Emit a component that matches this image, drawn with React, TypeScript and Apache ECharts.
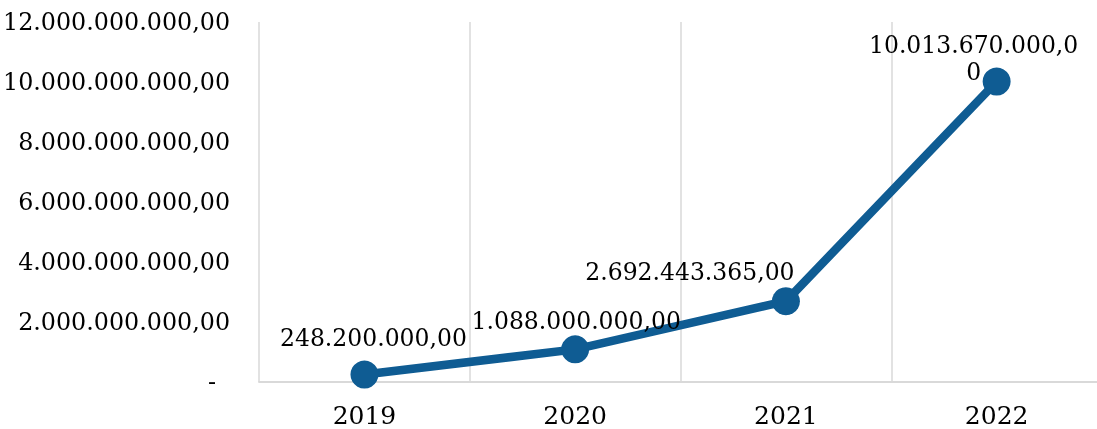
import React, { useEffect, useRef } from "react";
import * as echarts from "echarts";

const categories = ["2019", "2020", "2021", "2022"];
const values = [248200000, 1088000000, 2692443365, 10013670000];
const yMin = 0;
const yMax = 12000000000;
const yInterval = 2000000000;

const labelOffsets: [number, number][] = [
  [9, -4],
  [1, 4],
  [-96, 3],
  [-23, 23],
];

function fmt(v: number): string {
  const neg = v < 0;
  const abs = Math.abs(v);
  const intPart = Math.floor(abs);
  const dec = Math.round((abs - intPart) * 100);
  const s = String(intPart).replace(/\B(?=(\d{3})+(?!\d))/g, ".");
  return (neg ? "-" : "") + s + "," + String(dec).padStart(2, "0");
}

const FONT = "'DejaVu Serif', serif";

export default function App() {
  const ref = useRef<HTMLDivElement>(null);
  useEffect(() => {
    if (!ref.current) return;
    const chart = echarts.init(ref.current, undefined, { renderer: "svg" });
    chart.setOption({
      animation: false,
      grid: { left: 259, right: 0, top: 22, bottom: 47, containLabel: false },
      xAxis: {
        type: "category",
        data: categories,
        boundaryGap: true,
        axisLine: { show: true, lineStyle: { color: "#d9d9d9", width: 2 } },
        axisTick: { show: false },
        splitLine: { show: true, lineStyle: { color: "#d9d9d9", width: 1.5 } },
        axisLabel: {
          margin: 21,
          color: "#000",
          fontFamily: FONT,
          fontSize: 25,
        },
      },
      yAxis: {
        type: "value",
        min: yMin,
        max: yMax,
        interval: yInterval,
        axisLine: { show: false },
        axisTick: { show: false },
        splitLine: { show: false },
        axisLabel: {
          margin: 29,
          color: "#000",
          fontFamily: FONT,
          fontSize: 23.8,
          formatter: (v: number) => (v === 0 ? "{d|-}" : fmt(v)),
          rich: {
            d: { fontFamily: FONT, fontSize: 23.8, color: "#000", padding: [0, 14, 0, 0] },
          },
        },
      },
      series: [
        {
          type: "line",
          data: values.map((v, i) => ({
            value: v,
            label: { offset: labelOffsets[i] },
          })),
          lineStyle: { color: "#0f5c93", width: 8.5 },
          itemStyle: { color: "#0f5c93" },
          symbol: "circle",
          symbolSize: 28,
          label: {
            show: true,
            position: "top",
            distance: 5,
            color: "#000",
            fontFamily: FONT,
            fontSize: 23.5,
            width: 215,
            overflow: "breakAll",
            lineHeight: 27,
            formatter: (p: any) => fmt(p.value),
          },
        },
      ],
    });
    return () => chart.dispose();
  }, []);
  return (
    <div style={{ position: "fixed", left: 0, top: 0, width: 1097, height: 429, overflow: "hidden" }}>
      <div ref={ref} style={{ width: 1102, height: 429 }} />
    </div>
  );
}
